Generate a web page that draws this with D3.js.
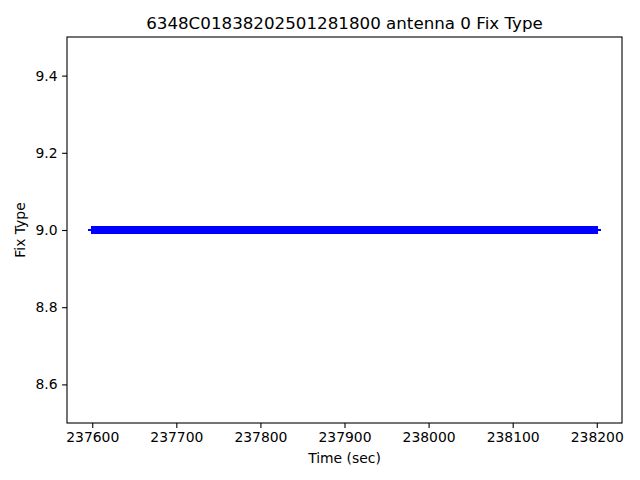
<!DOCTYPE html>
<html><head><meta charset="utf-8">
<script src="https://cdn.jsdelivr.net/npm/d3@7"></script>
<style>body{margin:0;background:#fff}svg{display:block}text{font-family:"DejaVu Sans",sans-serif}</style>
</head><body>
<svg id="c" width="640" height="480"></svg>
<script>
const title = "6348C01838202501281800 antenna 0 Fix Type";
const xLabel = "Time (sec)";
const yLabel = "Fix Type";
const xTicks = [237600, 237700, 237800, 237900, 238000, 238100, 238200];
const yTicks = [8.6, 8.8, 9.0, 9.2, 9.4];
const times = [
237600,237601,237602,237603,237604,237605,237606,237607,237608,237609,
237610,237611,237612,237613,237614,237615,237616,237617,237618,237619,
237620,237621,237622,237623,237624,237625,237626,237627,237628,237629,
237630,237631,237632,237633,237634,237635,237636,237637,237638,237639,
237640,237641,237642,237643,237644,237645,237646,237647,237648,237649,
237650,237651,237652,237653,237654,237655,237656,237657,237658,237659,
237660,237661,237662,237663,237664,237665,237666,237667,237668,237669,
237670,237671,237672,237673,237674,237675,237676,237677,237678,237679,
237680,237681,237682,237683,237684,237685,237686,237687,237688,237689,
237690,237691,237692,237693,237694,237695,237696,237697,237698,237699,
237700,237701,237702,237703,237704,237705,237706,237707,237708,237709,
237710,237711,237712,237713,237714,237715,237716,237717,237718,237719,
237720,237721,237722,237723,237724,237725,237726,237727,237728,237729,
237730,237731,237732,237733,237734,237735,237736,237737,237738,237739,
237740,237741,237742,237743,237744,237745,237746,237747,237748,237749,
237750,237751,237752,237753,237754,237755,237756,237757,237758,237759,
237760,237761,237762,237763,237764,237765,237766,237767,237768,237769,
237770,237771,237772,237773,237774,237775,237776,237777,237778,237779,
237780,237781,237782,237783,237784,237785,237786,237787,237788,237789,
237790,237791,237792,237793,237794,237795,237796,237797,237798,237799,
237800,237801,237802,237803,237804,237805,237806,237807,237808,237809,
237810,237811,237812,237813,237814,237815,237816,237817,237818,237819,
237820,237821,237822,237823,237824,237825,237826,237827,237828,237829,
237830,237831,237832,237833,237834,237835,237836,237837,237838,237839,
237840,237841,237842,237843,237844,237845,237846,237847,237848,237849,
237850,237851,237852,237853,237854,237855,237856,237857,237858,237859,
237860,237861,237862,237863,237864,237865,237866,237867,237868,237869,
237870,237871,237872,237873,237874,237875,237876,237877,237878,237879,
237880,237881,237882,237883,237884,237885,237886,237887,237888,237889,
237890,237891,237892,237893,237894,237895,237896,237897,237898,237899,
237900,237901,237902,237903,237904,237905,237906,237907,237908,237909,
237910,237911,237912,237913,237914,237915,237916,237917,237918,237919,
237920,237921,237922,237923,237924,237925,237926,237927,237928,237929,
237930,237931,237932,237933,237934,237935,237936,237937,237938,237939,
237940,237941,237942,237943,237944,237945,237946,237947,237948,237949,
237950,237951,237952,237953,237954,237955,237956,237957,237958,237959,
237960,237961,237962,237963,237964,237965,237966,237967,237968,237969,
237970,237971,237972,237973,237974,237975,237976,237977,237978,237979,
237980,237981,237982,237983,237984,237985,237986,237987,237988,237989,
237990,237991,237992,237993,237994,237995,237996,237997,237998,237999,
238000,238001,238002,238003,238004,238005,238006,238007,238008,238009,
238010,238011,238012,238013,238014,238015,238016,238017,238018,238019,
238020,238021,238022,238023,238024,238025,238026,238027,238028,238029,
238030,238031,238032,238033,238034,238035,238036,238037,238038,238039,
238040,238041,238042,238043,238044,238045,238046,238047,238048,238049,
238050,238051,238052,238053,238054,238055,238056,238057,238058,238059,
238060,238061,238062,238063,238064,238065,238066,238067,238068,238069,
238070,238071,238072,238073,238074,238075,238076,238077,238078,238079,
238080,238081,238082,238083,238084,238085,238086,238087,238088,238089,
238090,238091,238092,238093,238094,238095,238096,238097,238098,238099,
238100,238101,238102,238103,238104,238105,238106,238107,238108,238109,
238110,238111,238112,238113,238114,238115,238116,238117,238118,238119,
238120,238121,238122,238123,238124,238125,238126,238127,238128,238129,
238130,238131,238132,238133,238134,238135,238136,238137,238138,238139,
238140,238141,238142,238143,238144,238145,238146,238147,238148,238149,
238150,238151,238152,238153,238154,238155,238156,238157,238158,238159,
238160,238161,238162,238163,238164,238165,238166,238167,238168,238169,
238170,238171,238172,238173,238174,238175,238176,238177,238178,238179,
238180,238181,238182,238183,238184,238185,238186,238187,238188,238189,
238190,238191,238192,238193,238194,238195,238196,238197,238198,238199,
238200];
const fixType = [
9,9,9,9,9,9,9,9,9,9,9,9,9,9,9,9,9,9,9,9,
9,9,9,9,9,9,9,9,9,9,9,9,9,9,9,9,9,9,9,9,
9,9,9,9,9,9,9,9,9,9,9,9,9,9,9,9,9,9,9,9,
9,9,9,9,9,9,9,9,9,9,9,9,9,9,9,9,9,9,9,9,
9,9,9,9,9,9,9,9,9,9,9,9,9,9,9,9,9,9,9,9,
9,9,9,9,9,9,9,9,9,9,9,9,9,9,9,9,9,9,9,9,
9,9,9,9,9,9,9,9,9,9,9,9,9,9,9,9,9,9,9,9,
9,9,9,9,9,9,9,9,9,9,9,9,9,9,9,9,9,9,9,9,
9,9,9,9,9,9,9,9,9,9,9,9,9,9,9,9,9,9,9,9,
9,9,9,9,9,9,9,9,9,9,9,9,9,9,9,9,9,9,9,9,
9,9,9,9,9,9,9,9,9,9,9,9,9,9,9,9,9,9,9,9,
9,9,9,9,9,9,9,9,9,9,9,9,9,9,9,9,9,9,9,9,
9,9,9,9,9,9,9,9,9,9,9,9,9,9,9,9,9,9,9,9,
9,9,9,9,9,9,9,9,9,9,9,9,9,9,9,9,9,9,9,9,
9,9,9,9,9,9,9,9,9,9,9,9,9,9,9,9,9,9,9,9,
9,9,9,9,9,9,9,9,9,9,9,9,9,9,9,9,9,9,9,9,
9,9,9,9,9,9,9,9,9,9,9,9,9,9,9,9,9,9,9,9,
9,9,9,9,9,9,9,9,9,9,9,9,9,9,9,9,9,9,9,9,
9,9,9,9,9,9,9,9,9,9,9,9,9,9,9,9,9,9,9,9,
9,9,9,9,9,9,9,9,9,9,9,9,9,9,9,9,9,9,9,9,
9,9,9,9,9,9,9,9,9,9,9,9,9,9,9,9,9,9,9,9,
9,9,9,9,9,9,9,9,9,9,9,9,9,9,9,9,9,9,9,9,
9,9,9,9,9,9,9,9,9,9,9,9,9,9,9,9,9,9,9,9,
9,9,9,9,9,9,9,9,9,9,9,9,9,9,9,9,9,9,9,9,
9,9,9,9,9,9,9,9,9,9,9,9,9,9,9,9,9,9,9,9,
9,9,9,9,9,9,9,9,9,9,9,9,9,9,9,9,9,9,9,9,
9,9,9,9,9,9,9,9,9,9,9,9,9,9,9,9,9,9,9,9,
9,9,9,9,9,9,9,9,9,9,9,9,9,9,9,9,9,9,9,9,
9,9,9,9,9,9,9,9,9,9,9,9,9,9,9,9,9,9,9,9,
9,9,9,9,9,9,9,9,9,9,9,9,9,9,9,9,9,9,9,9,
9];

const svg = d3.select("#c");
const L = 67, R = 622, T = 37, B = 423;
const xs = d3.scaleLinear().domain([237570, 238230]).range([L, R]);
const ys = d3.scaleLinear().domain([8.5, 9.5]).range([B, T]);

const data = times.map((t, i) => ({t, v: fixType[i]}));

// markers '+'
const m = 4.3;
svg.append("g").attr("shape-rendering", "crispEdges")
  .selectAll("path").data(data).join("path")
  .attr("transform", d => `translate(${xs(d.t)},${ys(d.v)})`)
  .attr("d", `M${-m},0H${m}M0,${-m}V${m}`)
  .attr("stroke", "#0000ff").attr("stroke-width", 1.5).attr("fill", "none");

// axes
const xAxis = d3.axisBottom(xs).tickValues(xTicks).tickFormat(d3.format("d")).tickSize(4.9).tickPadding(4.5);
const yAxis = d3.axisLeft(ys).tickValues(yTicks).tickFormat(d3.format(".1f")).tickSize(4.9).tickPadding(4.5);
const gx = svg.append("g").attr("transform", `translate(0,${B})`).call(xAxis);
const gy = svg.append("g").attr("transform", `translate(${L},0)`).call(yAxis);
[gx, gy].forEach(g => {
  g.select(".domain").remove();
  g.selectAll(".tick line").attr("stroke", "#000").attr("stroke-width", 1.1);
  g.selectAll(".tick text").attr("fill", "#000").style("font-size", "13.9px").style("font-family", "DejaVu Sans");
});

// spines
svg.append("rect").attr("x", L).attr("y", T).attr("width", R - L).attr("height", B - T)
  .attr("fill", "none").attr("stroke", "#000").attr("stroke-width", 1.1);

svg.append("text").attr("x", (L + R) / 2).attr("y", 29).attr("text-anchor", "middle")
  .style("font-size", "16.7px").text(title);
svg.append("text").attr("x", (L + R) / 2).attr("y", 463).attr("text-anchor", "middle")
  .style("font-size", "13.9px").text(xLabel);
svg.append("text").attr("transform", `translate(25,${(T + B) / 2}) rotate(-90)`).attr("text-anchor", "middle")
  .style("font-size", "13.9px").text(yLabel);
</script>
</body></html>
